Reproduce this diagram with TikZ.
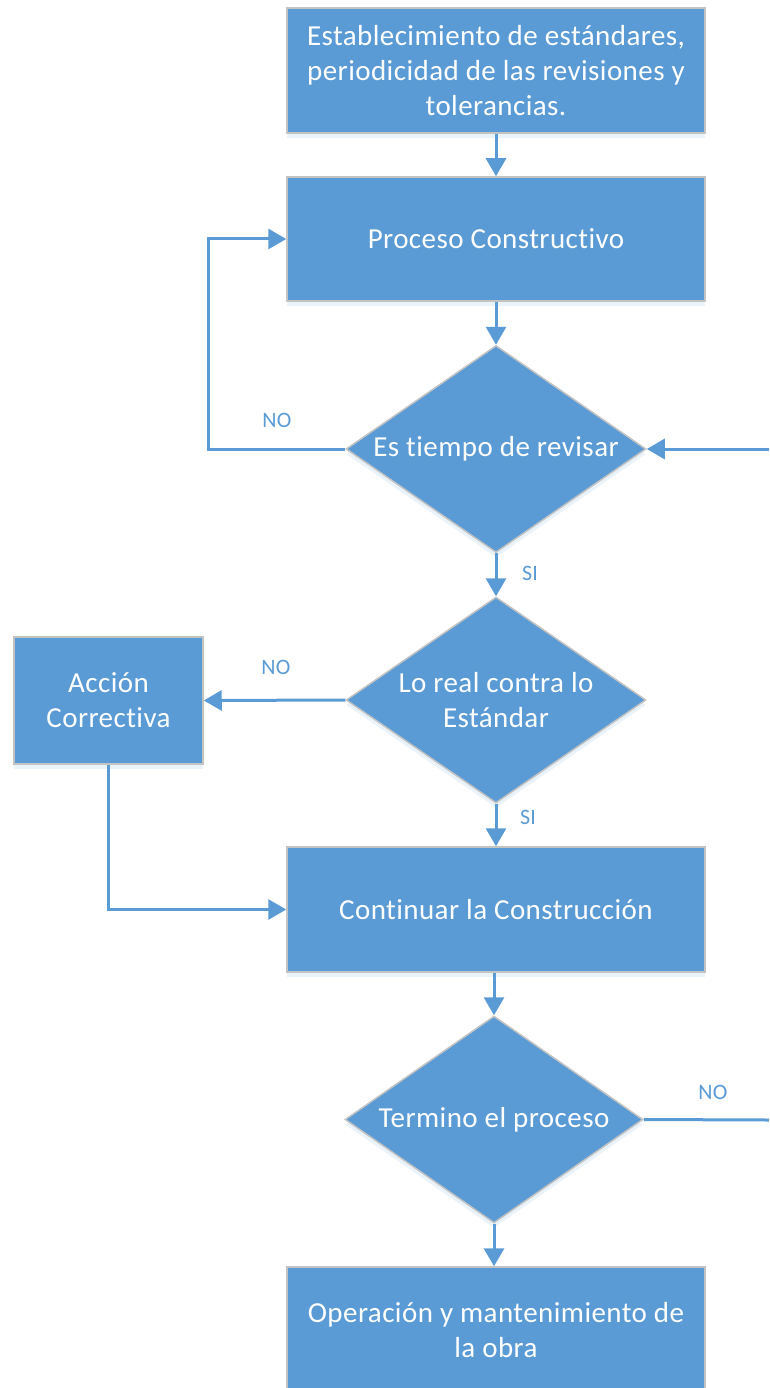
\documentclass[tikz,border=0pt]{standalone}
\usepackage{fontspec}
\setmainfont[Ligatures=NoCommon,LetterSpace=1.5]{Carlito}
\usetikzlibrary{shapes.geometric,arrows.meta,shadows}
\definecolor{boxblue}{HTML}{5B9BD5}
\definecolor{boxedge}{HTML}{C3C3C3}
\tikzset{
  stepbox/.style={rectangle, fill=boxblue, draw=boxedge, line width=1.5pt, text=white,
    align=center, inner sep=0pt, font=\fontsize{29}{35}\selectfont,
    drop shadow={shadow xshift=0pt, shadow yshift=-5pt, opacity=0.12, fill=boxblue}},
  decision/.style={diamond, fill=boxblue, draw=boxedge, line width=1.5pt, text=white,
    align=center, inner sep=0pt, aspect=1.45, font=\fontsize{29}{35}\selectfont,
    drop shadow={shadow xshift=0pt, shadow yshift=-5pt, opacity=0.12, fill=boxblue}},
  conn/.style={draw=boxblue, line width=3pt},
  arr/.style={conn, -{Triangle[length=18pt,width=20pt]}},
  lbl/.style={text=boxblue, font=\fontsize{22}{26}\selectfont, inner sep=0pt}
}
\begin{document}
\begin{tikzpicture}[x=1pt,y=-1pt]
\useasboundingbox (0,0) rectangle (769,1388);
\clip (0,0) rectangle (769,1388);
\node[stepbox, minimum width=418pt, minimum height=125pt] (b1) at (496,70.5)
  {Establecimiento de estándares,\\periodicidad de las revisiones y\\tolerancias.};
\node[stepbox, minimum width=418pt, minimum height=124pt] (b2) at (496,239) {Proceso Constructivo};
\node[decision, minimum width=300pt, minimum height=207pt] (d1) at (496,449) {Es tiempo de revisar};
\node[decision, minimum width=300pt, minimum height=206pt] (d2) at (496,700) {Lo real contra lo\\Estándar};
\node[stepbox, minimum width=189pt, minimum height=127pt] (acc) at (108.5,700.5) {Acción\\Correctiva};
\node[stepbox, minimum width=418pt, minimum height=125pt] (b3) at (496,909.5) {Continuar la Construcción};
\node[decision, minimum width=298pt, minimum height=207pt] (d3) at (494,1119.5) {Termino el proceso};
\node[stepbox, minimum width=418pt, minimum height=126pt] (b4) at (496,1330) {Operación y mantenimiento de\\la obra};
\coordinate (r1) at (769,449);
\coordinate (r3) at (769,1120);
\coordinate (lp) at (208,449);
% connectors
\draw[arr] (b1.south) -- (b2.north);
\draw[arr] (b2.south) -- (d1.north);
\draw[arr] (d1.west) -- (lp) |- (b2.west);
\draw[arr] (r1) -- (d1.east);
\draw[arr] (d1.south) -- (d2.north);
\draw[arr] (d2.west) -- (acc.east);
\draw[arr] (acc.south) |- (b3.west);
\draw[arr] (d2.south) -- (b3.north);
\draw[arr] (d3.north |- b3.south) -- (d3.north);
\draw[conn] (d3.east) -- (r3);
\draw[arr] (d3.south) -- (d3.south |- b4.north);
% labels
\node[lbl] (l1) at (277,420) {NO};
\node[lbl] (l2) at (530,573) {SI};
\node[lbl] (l3) at (276,667) {NO};
\node[lbl] (l4) at (528,817) {SI};
\node[lbl] (l5) at (713,1092) {NO};
\end{tikzpicture}
\end{document}
